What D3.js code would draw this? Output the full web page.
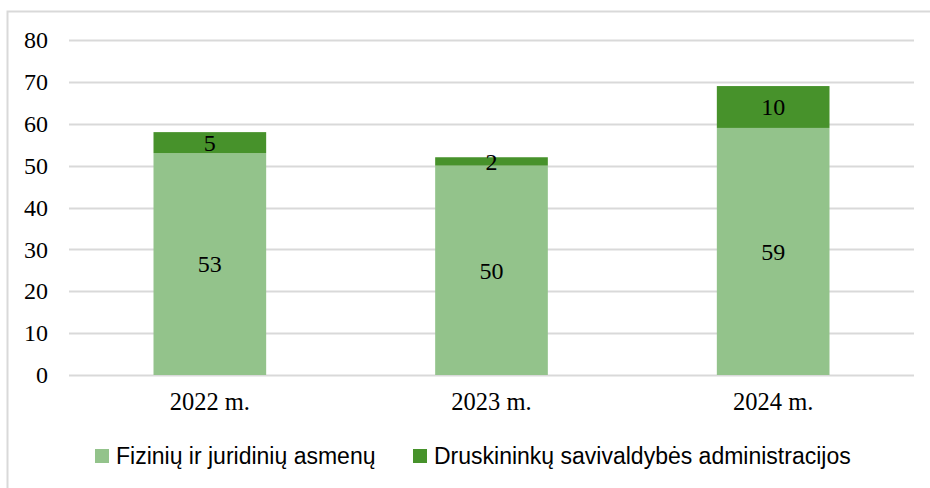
<!DOCTYPE html>
<html>
<head>
<meta charset="utf-8">
<script src="https://cdn.jsdelivr.net/npm/d3@7"></script>
<style>
  body { margin: 0; background: #fff; }
  svg { display: block; }
</style>
</head>
<body>
<div id="chart"></div>
<script>
// Datos del gráfico
const years = ["2022 m.", "2023 m.", "2024 m."];
const fiziniu = [53, 50, 59];
const savivaldybes = [5, 2, 10];
const seriesNames = ["Fizinių ir juridinių asmenų", "Druskininkų savivaldybės administracijos"];
const seriesColors = ["#93c38b", "#47922b"];
const yTicks = [0, 10, 20, 30, 40, 50, 60, 70, 80];

const W = 930, H = 488;
const margin = { top: 40, right: 16, bottom: 113, left: 69 };
const width = W - margin.left - margin.right,
    height = H - margin.top - margin.bottom;

const serif = "'Liberation Serif', 'Times New Roman', serif";

const svg = d3.select("#chart")
    .append("svg")
    .attr("width", W)
    .attr("height", H);

// Marco del gráfico
svg.append("rect")
    .attr("x", 7.5).attr("y", 11.5)
    .attr("width", W).attr("height", H)
    .attr("fill", "none")
    .attr("stroke", "#d9d9d9")
    .attr("stroke-width", 2);

const g = svg.append("g")
    .attr("transform", `translate(${margin.left},${margin.top})`);

const x = d3.scaleBand()
    .domain(years)
    .range([0, width])
    .paddingInner(0.6)
    .paddingOuter(0.3);

const y = d3.scaleLinear()
    .domain([0, 80])
    .range([height, 0]);

// Líneas de cuadrícula
g.selectAll(".grid")
    .data(yTicks)
    .enter()
    .append("line")
    .attr("class", "grid")
    .attr("x1", 0).attr("x2", width)
    .attr("y1", d => Math.round(y(d)) + 0.5)
    .attr("y2", d => Math.round(y(d)) + 0.5)
    .attr("stroke", "#d9d9d9")
    .attr("stroke-width", 2);

// Etiquetas del eje Y
const yAxis = g.append("g")
    .call(d3.axisLeft(y).tickValues(yTicks).tickSize(0).tickPadding(21));
yAxis.select(".domain").remove();
yAxis.selectAll("text")
    .style("font-family", serif)
    .style("font-size", "24px")
    .attr("fill", "#000");

// Etiquetas del eje X
const xAxis = g.append("g")
    .attr("transform", `translate(0,${height})`)
    .call(d3.axisBottom(x).tickSize(0).tickPadding(18));
xAxis.select(".domain").remove();
xAxis.selectAll("text")
    .style("font-family", serif)
    .style("font-size", "24.5px")
    .attr("fill", "#000");

const stackData = years.map((yr, i) => ({ year: yr, a: fiziniu[i], b: savivaldybes[i] }));
const stacked = d3.stack().keys(["a", "b"])(stackData);

const layers = g.selectAll(".layer")
    .data(stacked)
    .enter()
    .append("g")
    .attr("fill", (d, i) => seriesColors[i]);

layers.selectAll("rect")
    .data(d => d)
    .enter()
    .append("rect")
    .attr("x", d => x(d.data.year))
    .attr("y", d => y(d[1]))
    .attr("width", x.bandwidth())
    .attr("height", d => y(d[0]) - y(d[1]));

// Etiquetas de valores
layers.selectAll("text")
    .data(d => d)
    .enter()
    .append("text")
    .attr("x", d => x(d.data.year) + x.bandwidth() / 2)
    .attr("y", d => (y(d[0]) + y(d[1])) / 2)
    .attr("dy", "0.35em")
    .attr("text-anchor", "middle")
    .attr("fill", "#000")
    .style("font-family", serif)
    .style("font-size", "24px")
    .text(d => d[1] - d[0]);

// Leyenda
const legendX = [95, 413];
const legend = svg.selectAll(".legend")
    .data(seriesNames)
    .enter()
    .append("g")
    .attr("transform", (d, i) => `translate(${legendX[i]},449)`);

legend.append("rect")
    .attr("width", 14).attr("height", 14)
    .attr("fill", (d, i) => seriesColors[i]);

legend.append("text")
    .attr("x", 21)
    .attr("y", 7)
    .attr("dy", "0.36em")
    .attr("fill", "#000")
    .style("font-family", "'Liberation Sans', Arial, sans-serif")
    .style("font-size", "23px")
    .text(d => d);
</script>
</body>
</html>
